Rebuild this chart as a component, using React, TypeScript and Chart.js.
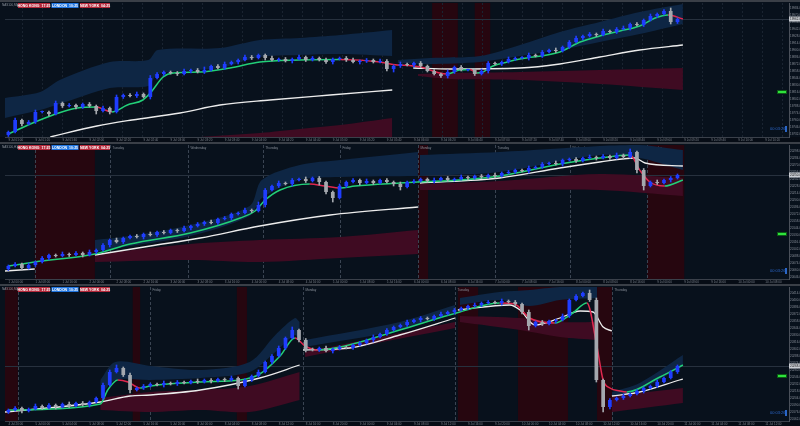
import React, { useEffect, useRef } from 'react';
import { Chart, registerables } from 'chart.js';

Chart.register(...registerables);
Chart.defaults.font.family = 'Liberation Sans, DejaVu Sans, sans-serif';

// ---------------- Panel 1 (M5) ----------------
const p1Title = 'NAS100,M5';
const p1FirstOpen = 19730;
const p1Close = [
  19736, 19760, 19752, 19756, 19776, 19776, 19772, 19794, 19788, 19790,
  19786, 19792, 19788, 19778, 19784, 19776, 19806, 19810, 19808, 19812,
  19806, 19844, 19852, 19856, 19854, 19852, 19858, 19860, 19856, 19860,
  19868, 19864, 19872, 19876, 19880, 19886, 19884, 19890, 19884, 19880,
  19882, 19878, 19882, 19886, 19880, 19884, 19880, 19876, 19882, 19884,
  19880, 19876, 19878, 19880, 19876, 19878, 19862, 19868, 19872, 19870,
  19874, 19868, 19858, 19852, 19848, 19856, 19866, 19860, 19860, 19852,
  19858, 19874, 19872, 19876, 19882, 19884, 19884, 19890, 19888, 19896,
  19900, 19898, 19906, 19916, 19924, 19928, 19932, 19930, 19938, 19936,
  19942, 19944, 19952, 19950, 19960, 19968, 19972, 19978, 19956, 19962,
];
const p1WickUp = [
  2, 4, 2, 3, 4, 2, 2, 4, 2, 3, 2, 2, 3, 2, 4, 2, 4, 2, 3, 4,
  2, 5, 3, 2, 2, 3, 4, 2, 3, 6, 2, 3, 4, 2, 2, 4, 3, 2, 2, 4,
  2, 3, 2, 4, 2, 3, 2, 4, 2, 2, 3, 4, 2, 3, 2, 4, 3, 2, 4, 2,
  2, 3, 2, 3, 2, 4, 2, 3, 2, 2, 4, 3, 2, 2, 4, 2, 3, 4, 2, 3,
  2, 4, 2, 3, 4, 2, 3, 2, 4, 2, 3, 4, 2, 3, 2, 4, 2, 3, 6, 2,
];
const p1WickDn = [
  3, 2, 4, 2, 3, 2, 4, 2, 3, 2, 4, 3, 2, 6, 2, 4, 2, 3, 2, 3,
  2, 4, 2, 3, 2, 3, 2, 4, 2, 3, 2, 2, 3, 2, 4, 2, 3, 2, 4, 2,
  3, 2, 4, 2, 3, 2, 2, 3, 4, 2, 3, 2, 4, 3, 2, 2, 4, 6, 3, 2,
  4, 3, 2, 2, 3, 4, 3, 2, 2, 3, 2, 4, 2, 3, 2, 3, 2, 4, 2, 3,
  2, 3, 2, 3, 2, 4, 2, 3, 2, 2, 3, 2, 4, 2, 3, 2, 3, 2, 4, 3,
];
const p1MA = [
  [0, 19732], [3.6, 19754], [6.6, 19770], [10.2, 19784], [13.1, 19786], [14.3, 19780],
  [15.3, 19776], [17.6, 19790], [19.9, 19800], [21, 19814], [22.9, 19846], [24.4, 19854],
  [28.4, 19856], [32.8, 19864], [37.2, 19876], [43.1, 19880], [49.1, 19881], [55, 19876],
  [56.9, 19871], [59.9, 19868], [61.3, 19865], [62.4, 19860], [63.8, 19854], [64.9, 19852],
  [66.8, 19860], [68.3, 19861], [69.3, 19854], [70.2, 19856], [71.7, 19868], [73.8, 19876],
  [75.7, 19882], [81.6, 19896], [84.6, 19916], [87.5, 19928], [90.5, 19938], [93.4, 19948],
  [95.7, 19964], [97.6, 19970], [99.8, 19962],
];
const p1White = [
  [[6.2, 19726], [13.1, 19748], [18.3, 19760], [25.4, 19774], [31.3, 19790], [38.7, 19800], [47.6, 19810], [56.8, 19820]],
  [[59.9, 19864], [65.4, 19862], [75.7, 19864], [81.6, 19872], [87.5, 19886], [93.4, 19900], [99.8, 19910]],
];
const p1Blue = [
  [[-0.5, 19804, 19764], [4.7, 19816, 19780], [7.6, 19840, 19792], [15, 19876, 19824], [20.7, 19880, 19828],
   [22.1, 19900, 19852], [31.3, 19904, 19864], [37.2, 19920, 19886], [43.1, 19924, 19890], [49.1, 19930, 19892], [56.8, 19940, 19888]],
  [[57.6, 19880, 19874], [62.4, 19884, 19872], [69.8, 19888, 19876], [75.7, 19910, 19888], [81.6, 19936, 19900],
   [87.5, 19956, 19916], [93.4, 19976, 19932], [99.8, 19992, 19952]],
];
const p1Maroon = [
  [[28.4, 19726, 19726], [37.2, 19734, 19726], [43.1, 19742, 19726], [49.1, 19750, 19726], [56.8, 19764, 19726]],
  [[60.6, 19852, 19848], [65.3, 19854, 19842], [75.7, 19856, 19840], [87.5, 19860, 19832], [99.8, 19864, 19820]],
];
const p1Sessions = [[62.7, 66.5], [69.0, 71.3]];
const p1Days: [number, string][] = [];
const p1YTicks = [19732, 19746, 19760, 19774, 19788, 19802, 19816, 19830, 19844, 19858, 19872, 19886, 19900, 19914, 19928, 19942, 19956, 19970, 19984];
const p1XLabels = [
  '9 Jul 01:00', '9 Jul 01:20', '9 Jul 01:40', '9 Jul 02:00', '9 Jul 02:20', '9 Jul 02:40', '9 Jul 03:00', '9 Jul 03:20',
  '9 Jul 03:40', '9 Jul 04:00', '9 Jul 04:20', '9 Jul 04:40', '9 Jul 05:00', '9 Jul 05:20', '9 Jul 05:40', '9 Jul 06:00',
  '9 Jul 06:20', '9 Jul 06:40', '9 Jul 07:00', '9 Jul 07:20', '9 Jul 07:40', '9 Jul 08:00', '9 Jul 08:20', '9 Jul 08:40',
  '9 Jul 09:00', '9 Jul 09:20', '9 Jul 09:40', '9 Jul 10:00', '9 Jul 10:20',
];

// ---------------- Panel 2 (H1) ----------------
const p2Title = 'NAS100,H1';
const p2FirstOpen = 20062;
const p2Close = [
  20068, 20072, 20064, 20070, 20076, 20084, 20090, 20088, 20092, 20090,
  20094, 20090, 20096, 20100, 20110, 20120, 20116, 20124, 20128, 20126,
  20132, 20130, 20136, 20134, 20140, 20138, 20144, 20148, 20152, 20156,
  20154, 20162, 20164, 20172, 20174, 20180, 20178, 20190, 20220, 20228,
  20234, 20232, 20240, 20242, 20238, 20244, 20236, 20216, 20204, 20228,
  20236, 20240, 20234, 20238, 20234, 20240, 20236, 20232, 20226, 20236,
  20238, 20242, 20238, 20240, 20244, 20240, 20242, 20246, 20244, 20248,
  20246, 20250, 20248, 20254, 20256, 20260, 20258, 20264, 20266, 20272,
  20274, 20272, 20280, 20282, 20278, 20284, 20286, 20284, 20288, 20284,
  20290, 20286, 20296, 20260, 20228, 20236, 20234, 20240, 20244, 20250,
];
const p2WickUp = [
  2, 3, 2, 4, 2, 3, 2, 2, 4, 2, 3, 2, 4, 2, 3, 2, 4, 2, 2, 3,
  2, 4, 2, 3, 2, 2, 4, 2, 3, 2, 4, 2, 3, 2, 2, 4, 2, 6, 3, 2,
  4, 2, 3, 2, 4, 2, 3, 2, 2, 4, 2, 3, 2, 4, 2, 2, 3, 2, 4, 2,
  3, 2, 2, 4, 2, 3, 2, 4, 2, 2, 3, 2, 4, 2, 3, 2, 2, 4, 2, 3,
  2, 4, 2, 2, 3, 2, 4, 2, 3, 2, 4, 2, 6, 2, 3, 2, 4, 2, 3, 2,
];
const p2WickDn = [
  3, 2, 4, 2, 3, 2, 4, 2, 2, 3, 2, 4, 2, 3, 2, 4, 2, 3, 2, 2,
  4, 2, 3, 2, 2, 3, 2, 4, 2, 3, 2, 3, 2, 4, 2, 2, 3, 2, 4, 2,
  3, 2, 4, 2, 3, 2, 6, 4, 8, 2, 3, 2, 4, 2, 3, 2, 2, 4, 6, 2,
  3, 2, 2, 4, 2, 3, 2, 2, 4, 2, 3, 2, 4, 2, 2, 3, 2, 4, 2, 3,
  2, 2, 4, 2, 3, 2, 2, 4, 2, 3, 2, 4, 2, 6, 8, 2, 3, 2, 4, 2,
];
const p2MA = [
  [0, 20068], [3.9, 20076], [12.8, 20092], [18, 20112], [26.9, 20134], [34.3, 20164], [36.5, 20178],
  [38, 20200], [40.2, 20220], [44.6, 20232], [46.8, 20228], [49.1, 20224], [51.3, 20228], [57.9, 20234],
  [60.6, 20236], [66.8, 20240], [72.7, 20248], [81.6, 20272], [87.5, 20284], [92, 20290], [93.4, 20260],
  [94.9, 20236], [97.1, 20228], [99.8, 20240],
];
const p2White = [
  [[-0.5, 20058], [3.9, 20062]],
  [[12.8, 20090], [21, 20108], [28.4, 20124], [37.2, 20148], [47.6, 20170], [60.6, 20186]],
  [[60.9, 20234], [72.7, 20244], [81.6, 20264], [87.5, 20276], [92.7, 20284], [94.2, 20274], [99.8, 20268]],
];
const p2Blue = [
  [[12.8, 20120, 20096], [18, 20128, 20108], [26.9, 20150, 20128], [35.7, 20188, 20168], [37.5, 20240, 20204],
   [43.1, 20270, 20240], [49.1, 20280, 20246], [60.6, 20296, 20248]],
  [[60.9, 20290, 20248], [72.7, 20296, 20256], [87.5, 20308, 20290], [93.4, 20310, 20284], [99.8, 20300, 20260]],
];
const p2Maroon = [
  [[12.8, 20092, 20076], [26.9, 20112, 20080], [37.2, 20120, 20076], [49.1, 20126, 20084], [60.6, 20140, 20092]],
  [[60.9, 20232, 20220], [72.7, 20238, 20220], [87.5, 20252, 20220], [99.8, 20244, 20208]],
];
const p2Sessions = [[3.9, 12.8], [60.6, 62.1], [94.5, 100]];
const p2Days: [number, string][] = [
  [3.9, ''], [15.0, 'Tuesday'], [26.6, 'Wednesday'], [37.7, 'Thursday'], [49.1, 'Friday'],
  [60.6, 'Monday'], [72.0, 'Tuesday'], [83.1, 'Wednesday'], [94.5, 'Thursday'],
];
const p2YTicks = [20046, 20060, 20074, 20088, 20102, 20116, 20130, 20144, 20158, 20172, 20186, 20200, 20214, 20228, 20242, 20256, 20270, 20284, 20298];
const p2XLabels = [
  '1 Jul 00:00', '1 Jul 08:00', '1 Jul 16:00', '2 Jul 00:00', '2 Jul 08:00', '2 Jul 16:00', '3 Jul 00:00', '3 Jul 08:00',
  '3 Jul 16:00', '4 Jul 00:00', '4 Jul 08:00', '4 Jul 16:00', '5 Jul 00:00', '5 Jul 08:00', '5 Jul 16:00', '6 Jul 00:00',
  '6 Jul 08:00', '6 Jul 16:00', '7 Jul 00:00', '7 Jul 08:00', '7 Jul 16:00', '8 Jul 00:00', '8 Jul 08:00', '8 Jul 16:00',
  '9 Jul 00:00', '9 Jul 08:00', '9 Jul 16:00', '10 Jul 00:00', '10 Jul 08:00',
];

// ---------------- Panel 3 (M30) ----------------
const p3Title = 'NAS100,M30';
const p3FirstOpen = 20176;
const p3Close = [
  20180, 20184, 20178, 20182, 20188, 20184, 20190, 20186, 20192, 20188,
  20194, 20190, 20196, 20204, 20230, 20256, 20264, 20250, 20220, 20224,
  20228, 20232, 20230, 20234, 20232, 20236, 20234, 20238, 20236, 20240,
  20238, 20242, 20240, 20244, 20228, 20240, 20248, 20256, 20276, 20288,
  20304, 20324, 20340, 20320, 20302, 20300, 20304, 20298, 20302, 20306,
  20304, 20310, 20314, 20320, 20326, 20332, 20340, 20346, 20350, 20356,
  20360, 20364, 20362, 20368, 20372, 20376, 20380, 20384, 20388, 20390,
  20394, 20396, 20394, 20398, 20396, 20392, 20376, 20348, 20356, 20352,
  20358, 20360, 20368, 20400, 20408, 20414, 20400, 20240, 20186, 20200,
  20204, 20208, 20212, 20218, 20224, 20228, 20236, 20244, 20256, 20268,
];
const p3WickUp = [
  2, 3, 2, 2, 4, 2, 3, 2, 2, 4, 2, 3, 2, 2, 4, 4, 6, 2, 4, 2,
  3, 2, 2, 4, 2, 3, 2, 2, 4, 2, 3, 2, 2, 4, 2, 3, 2, 4, 2, 3,
  4, 2, 6, 2, 3, 2, 2, 4, 2, 3, 2, 2, 3, 2, 4, 2, 3, 2, 2, 4,
  2, 3, 2, 2, 4, 2, 3, 2, 2, 4, 2, 3, 2, 4, 2, 3, 2, 4, 2, 3,
  2, 2, 4, 2, 3, 2, 6, 4, 2, 3, 2, 4, 2, 3, 2, 2, 4, 2, 3, 2,
];
const p3WickDn = [
  3, 2, 4, 2, 2, 3, 2, 4, 2, 3, 2, 2, 4, 2, 3, 2, 2, 3, 6, 2,
  3, 2, 2, 4, 2, 3, 2, 2, 3, 2, 4, 2, 3, 2, 6, 2, 3, 2, 2, 4,
  2, 3, 2, 4, 6, 2, 3, 2, 4, 2, 2, 3, 2, 2, 4, 2, 3, 2, 2, 3,
  2, 4, 2, 3, 2, 2, 4, 2, 3, 2, 3, 2, 2, 4, 2, 3, 4, 8, 2, 3,
  2, 4, 2, 3, 2, 2, 3, 4, 10, 4, 2, 3, 2, 2, 4, 2, 3, 2, 2, 3,
];
const p3MA = [
  [0, 20180], [13.6, 20192], [14.7, 20220], [16.2, 20240], [17.7, 20236], [19.5, 20224], [21, 20228],
  [28.4, 20236], [34.3, 20240], [37.2, 20252], [40.2, 20288], [42.4, 20324], [43.9, 20308], [45.8, 20300],
  [49.1, 20306], [57.9, 20340], [66.8, 20376], [72.7, 20394], [74.9, 20392], [77.1, 20364], [80.8, 20354],
  [83.5, 20374], [85.6, 20394], [87.1, 20306], [88, 20240], [89, 20224], [90.5, 20218], [91.5, 20216],
  [96.4, 20246], [99.8, 20270],
];
const p3White = [
  [[-0.5, 20176], [13.6, 20196], [18, 20208], [21, 20210], [28.4, 20220], [37.2, 20244], [43.1, 20270]],
  [[43.6, 20300], [50.5, 20304], [57.9, 20330], [66.1, 20364]],
  [[66.5, 20380], [74.2, 20390], [75.7, 20380], [77.9, 20350], [81.6, 20364], [84.6, 20378], [86.5, 20376], [88, 20346], [89.3, 20338]],
  [[89.3, 20208], [93.4, 20216], [99.3, 20240], [99.8, 20242]],
];
const p3Blue = [
  [[13.6, 20240, 20208], [15.8, 20276, 20240], [21, 20268, 20240], [28.4, 20260, 20244], [35.7, 20276, 20256],
   [39.5, 20330, 20296], [42.4, 20364, 20330], [43.1, 20356, 20320]],
  [[43.9, 20320, 20306], [57.9, 20356, 20340], [66.1, 20390, 20376]],
  [[66.8, 20404, 20390], [72.7, 20416, 20400], [77.1, 20420, 20388], [81.6, 20426, 20400], [87.1, 20426, 20404]],
  [[89.3, 20216, 20208], [93.4, 20234, 20220], [99.8, 20290, 20268]],
];
const p3Maroon = [
  [[13.6, 20204, 20180], [21, 20216, 20176], [28.4, 20220, 20180], [35.7, 20228, 20176], [43.1, 20256, 20200]],
  [[43.9, 20296, 20286], [66.1, 20356, 20344]],
  [[66.8, 20368, 20356], [75.7, 20364, 20340], [81.6, 20356, 20326], [87.1, 20356, 20320]],
  [[89.3, 20208, 20176], [99.8, 20224, 20194]],
];
const p3Sessions = [[-0.5, 1.4], [18.4, 19.5], [33.8, 35.3], [66.5, 69.5], [75.4, 82.8], [87.1, 89.3]];
const p3Days: [number, string][] = [[1.4, ''], [21, 'Friday'], [43.6, 'Monday'], [66.1, 'Tuesday'], [89.3, 'Thursday']];
const p3YTicks = [20162, 20176, 20190, 20204, 20218, 20232, 20246, 20260, 20274, 20288, 20302, 20316, 20330, 20344, 20358, 20372, 20386, 20400, 20414];
const p3XLabels = [
  '4 Jul 20:00', '5 Jul 00:00', '5 Jul 04:00', '5 Jul 08:00', '5 Jul 12:00', '5 Jul 16:00', '5 Jul 20:00', '8 Jul 00:00',
  '8 Jul 04:00', '8 Jul 08:00', '8 Jul 12:00', '8 Jul 16:00', '8 Jul 20:00', '9 Jul 00:00', '9 Jul 04:00', '9 Jul 08:00',
  '9 Jul 12:00', '9 Jul 16:00', '9 Jul 20:00', '10 Jul 00:00', '10 Jul 04:00', '10 Jul 08:00', '10 Jul 12:00', '10 Jul 16:00',
  '10 Jul 20:00', '11 Jul 00:00', '11 Jul 04:00', '11 Jul 08:00', '11 Jul 12:00',
];

const sessionBoxes = [
  { text: 'HONG KONG  17:25', color: '#b3283a' },
  { text: 'LONDON  10:25', color: '#1f74de' },
  { text: 'NEW YORK  04:25', color: '#b3283a' },
];
const clockText = '00:03:26';

// ---------------- styling ----------------
const BG = '#08111c';
const NAVY = '#0e2644';
const MAROON = '#3f0b22';
const SESSION = '#26060f';
const GREEN = '#22cf78';
const RED = '#e0284f';
const WHITE = '#ececec';
const CANDLE_UP = '#1f3dff';
const CANDLE_DOWN = '#a4a8ae';

type Seg = number[][];
interface PanelDef {
  title: string; firstOpen: number; close: number[]; wickUp: number[]; wickDn: number[];
  ma: number[][]; white: Seg[]; blue: Seg[]; maroon: Seg[]; sessions: number[][];
  days: [number, string][]; grid: boolean; yMin: number; yMax: number; yTicks: number[]; xLabels: string[];
}

const PANELS: PanelDef[] = [
  { title: p1Title, firstOpen: p1FirstOpen, close: p1Close, wickUp: p1WickUp, wickDn: p1WickDn, ma: p1MA, white: p1White,
    blue: p1Blue, maroon: p1Maroon, sessions: p1Sessions, days: p1Days, grid: true, yMin: 19726, yMax: 19994, yTicks: p1YTicks, xLabels: p1XLabels },
  { title: p2Title, firstOpen: p2FirstOpen, close: p2Close, wickUp: p2WickUp, wickDn: p2WickDn, ma: p2MA, white: p2White,
    blue: p2Blue, maroon: p2Maroon, sessions: p2Sessions, days: p2Days, grid: false, yMin: 20042, yMax: 20310, yTicks: p2YTicks, xLabels: p2XLabels },
  { title: p3Title, firstOpen: p3FirstOpen, close: p3Close, wickUp: p3WickUp, wickDn: p3WickDn, ma: p3MA, white: p3White,
    blue: p3Blue, maroon: p3Maroon, sessions: p3Sessions, days: p3Days, grid: false, yMin: 20158, yMax: 20426, yTicks: p3YTicks, xLabels: p3XLabels },
];

function makeDeco(p: PanelDef) {
  return {
    id: 'deco',
    beforeDraw(chart: any) {
      const { ctx, width, height, chartArea: a } = chart;
      const x = chart.scales.x;
      ctx.save();
      ctx.fillStyle = BG;
      ctx.fillRect(0, 0, width, height);
      ctx.fillStyle = '#060c15';
      ctx.fillRect(0, a.bottom, width, height - a.bottom);
      ctx.fillStyle = SESSION;
      p.sessions.forEach(([s, e]) => {
        const x0 = x.getPixelForValue(s);
        const x1 = x.getPixelForValue(e);
        ctx.fillRect(x0, a.top, x1 - x0, a.bottom - a.top);
      });
      ctx.lineWidth = 1;
      if (p.grid) {
        ctx.strokeStyle = '#1a2431';
        ctx.setLineDash([2, 2]);
        for (let v = 2.0; v < x.max; v += 2.96) {
          const px = Math.round(x.getPixelForValue(v)) + 0.5;
          ctx.beginPath(); ctx.moveTo(px, a.top); ctx.lineTo(px, a.bottom); ctx.stroke();
        }
      }
      ctx.strokeStyle = '#3a4452';
      ctx.setLineDash([3, 2]);
      ctx.font = '3px Liberation Sans';
      ctx.fillStyle = '#8a909a';
      ctx.textBaseline = 'top';
      p.days.forEach(([v, label]) => {
        const px = Math.round(x.getPixelForValue(v)) + 0.5;
        ctx.beginPath(); ctx.moveTo(px, a.top); ctx.lineTo(px, a.bottom); ctx.stroke();
        if (label) ctx.fillText(label, px + 2, a.top + 2);
      });
      ctx.restore();
    },
    beforeDatasetsDraw(chart: any) {
      const { ctx, chartArea: a } = chart;
      const py = Math.round(chart.scales.y.getPixelForValue(p.close[p.close.length - 1])) + 0.5;
      ctx.save();
      ctx.strokeStyle = '#27313e';
      ctx.lineWidth = 1;
      ctx.beginPath(); ctx.moveTo(a.left, py); ctx.lineTo(a.right, py); ctx.stroke();
      ctx.restore();
    },
    afterDraw(chart: any) {
      const { ctx, width, chartArea: a } = chart;
      const last = p.close[p.close.length - 1];
      const py = chart.scales.y.getPixelForValue(last);
      ctx.save();
      // top border
      ctx.fillStyle = '#3a3f47';
      ctx.fillRect(0, 0, width, 2);
      // current price label
      ctx.fillStyle = '#c9cdd3';
      ctx.fillRect(a.right, py - 2.5, width - a.right, 5);
      ctx.fillStyle = '#111';
      ctx.font = '3px Liberation Sans';
      ctx.textBaseline = 'middle';
      ctx.textAlign = 'left';
      ctx.fillText(last.toFixed(2), a.right + 1, py);
      // green box
      ctx.fillStyle = '#0d5a16';
      ctx.fillRect(a.right - 12, a.top + 87, 10, 4);
      ctx.fillStyle = '#2ee23c';
      ctx.fillRect(a.right - 11, a.top + 88, 8, 2);
      // clock
      ctx.fillStyle = '#2a66c8';
      ctx.font = '4px Liberation Sans';
      ctx.fillText(clockText, a.right - 19, a.bottom - 8);
      ctx.fillRect(a.right - 4, a.bottom - 11, 2, 6);
      // title
      ctx.fillStyle = '#8c929c';
      ctx.font = '3px Liberation Sans';
      ctx.fillText(p.title, 2, 5);
      // session boxes
      let bx = 18;
      const widths = [32, 27, 30];
      sessionBoxes.forEach((b, i) => {
        ctx.fillStyle = b.color;
        ctx.fillRect(bx, 3, widths[i], 5);
        ctx.fillStyle = '#ffffff';
        ctx.font = 'bold 3.5px Liberation Sans';
        ctx.textAlign = 'center';
        ctx.fillText(b.text, bx + widths[i] / 2, 5.6);
        ctx.textAlign = 'left';
        bx += widths[i] + 1.5;
      });
      ctx.restore();
    },
  };
}

function buildConfig(p: PanelDef): any {
  const opens = p.close.map((c, i) => (i === 0 ? p.firstOpen : p.close[i - 1]));
  const colors = p.close.map((c, i) => (c >= opens[i] ? CANDLE_UP : CANDLE_DOWN));
  const datasets: any[] = [];
  const band = (segs: Seg[], color: string) => {
    segs.forEach((seg) => {
      datasets.push({
        type: 'line', data: seg.map((r) => ({ x: r[0], y: r[1] })), borderColor: 'transparent', borderWidth: 0,
        pointRadius: 0, backgroundColor: color, fill: '+1', tension: 0.3, order: 30,
      });
      datasets.push({
        type: 'line', data: seg.map((r) => ({ x: r[0], y: r[2] })), borderColor: 'transparent', borderWidth: 0,
        pointRadius: 0, fill: false, tension: 0.3, order: 30,
      });
    });
  };
  band(p.maroon, MAROON);
  band(p.blue, NAVY);
  p.white.forEach((seg) => {
    datasets.push({
      type: 'line', data: seg.map((r) => ({ x: r[0], y: r[1] })), borderColor: WHITE, borderWidth: 1.3,
      pointRadius: 0, fill: false, cubicInterpolationMode: 'monotone', order: 20,
    });
  });
  datasets.push({
    type: 'line', data: p.ma.map((r) => ({ x: r[0], y: r[1] })), borderColor: GREEN, borderWidth: 1.5,
    pointRadius: 0, fill: false, cubicInterpolationMode: 'monotone', order: 10,
    segment: { borderColor: (c: any) => (c.p1.parsed.y >= c.p0.parsed.y ? GREEN : RED) },
  });
  datasets.push({
    type: 'bar',
    data: p.close.map((c, i) => ({ x: i, y: [Math.min(opens[i], c) - p.wickDn[i], Math.max(opens[i], c) + p.wickUp[i]] })),
    backgroundColor: colors, barThickness: 1, grouped: false, order: 2,
  });
  datasets.push({
    type: 'bar', data: p.close.map((c, i) => ({ x: i, y: [opens[i], c] })), backgroundColor: colors,
    barPercentage: 0.55, categoryPercentage: 1, grouped: false, minBarLength: 1, order: 1,
  });

  return {
    type: 'bar',
    data: { datasets },
    options: {
      animation: false,
      responsive: false,
      maintainAspectRatio: false,
      events: [],
      layout: { padding: { left: 5, top: 3, right: 0, bottom: 0 } },
      plugins: { legend: { display: false }, tooltip: { enabled: false } },
      scales: {
        x: {
          type: 'linear', min: -0.5, max: 115.5, offset: false,
          grid: { display: false, drawTicks: false },
          border: { display: true, color: '#3a404a' },
          ticks: {
            font: { size: 3 }, color: '#7a808a', padding: 1, maxRotation: 0, autoSkip: false, align: 'start',
            callback: (_v: any, i: number) => p.xLabels[i] ?? '',
          },
          afterBuildTicks: (s: any) => { s.ticks = p.xLabels.map((_, i) => ({ value: i * 4 })); },
          afterFit: (s: any) => { s.height = 5; s.paddingLeft = 0; s.paddingRight = 0; },
        },
        y: {
          position: 'right', min: p.yMin, max: p.yMax,
          grid: { display: false, drawTicks: false },
          border: { display: true, color: '#4a505a' },
          ticks: { font: { size: 3 }, color: '#8a909a', padding: 1, callback: (v: any) => Number(v).toFixed(2) },
          afterBuildTicks: (s: any) => { s.ticks = p.yTicks.map((v) => ({ value: v })); },
          afterFit: (s: any) => { s.width = 11; s.paddingTop = 0; s.paddingBottom = 0; },
        },
      },
    },
    plugins: [makeDeco(p)],
  };
}

function PanelChart({ p }: { p: PanelDef }) {
  const ref = useRef<HTMLCanvasElement | null>(null);
  useEffect(() => {
    if (!ref.current) return;
    const chart = new Chart(ref.current, buildConfig(p));
    return () => chart.destroy();
  }, [p]);
  return <canvas ref={ref} width={800} height={142} style={{ display: 'block', width: 800, height: 142 }} />;
}

export default function App() {
  return (
    <div style={{ position: 'fixed', left: 0, top: 0, width: 800, height: 426, background: BG, overflow: 'hidden' }}>
      {PANELS.map((p, i) => (
        <PanelChart key={i} p={p} />
      ))}
    </div>
  );
}
